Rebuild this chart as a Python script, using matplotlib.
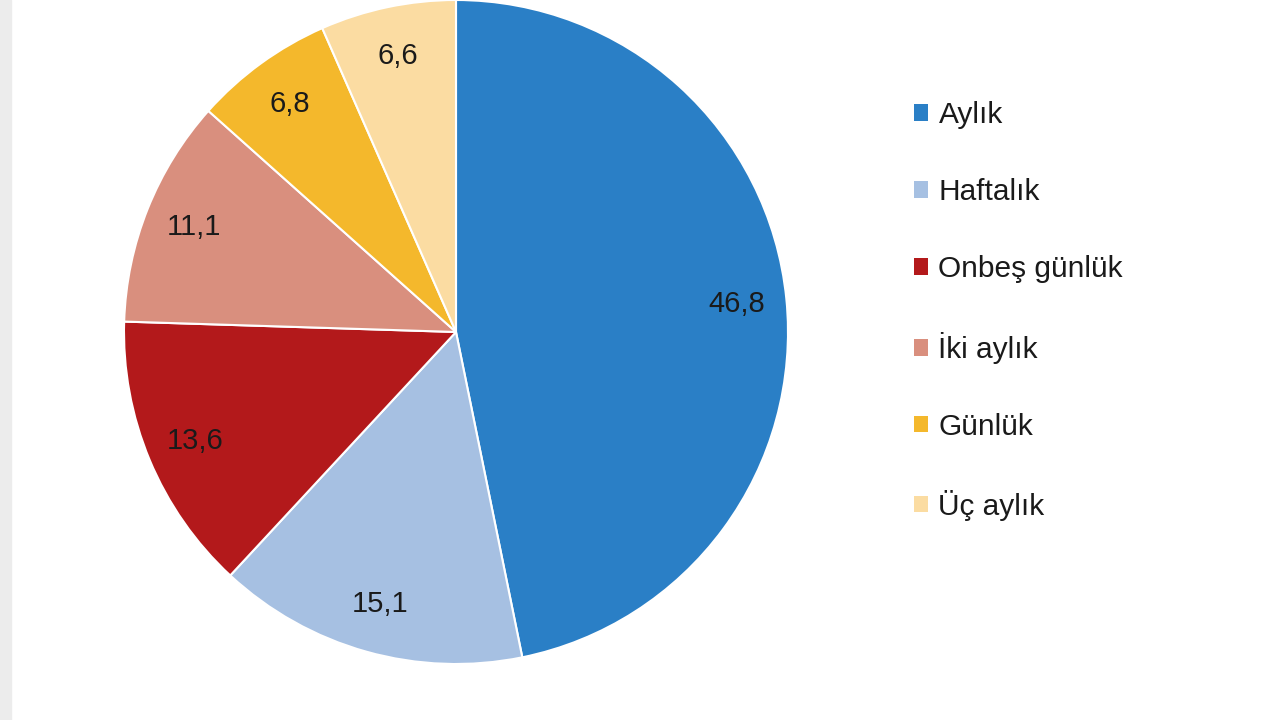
import matplotlib.pyplot as plt
from matplotlib.patches import Patch, Rectangle

labels = ["Aylık", "Haftalık", "Onbeş günlük", "İki aylık", "Günlük", "Üç aylık"]
values = [46.8, 15.1, 13.6, 11.1, 6.8, 6.6]
colors = ["#2a7fc6", "#a6c0e2", "#b3191b", "#d98f7e", "#f4b82c", "#fbdca2"]

plt.rcParams["font.family"] = ["Liberation Sans", "DejaVu Sans"]

fig = plt.figure(figsize=(12.8, 7.2), dpi=100)
fig.patches.append(Rectangle((0, 0), 11 / 1280, 1, transform=fig.transFigure,
                             color="#ececec", zorder=0))

# pie centred at about (456, 332) px, radius ~332 px
cx, cy, r = 456, 332, 332
ax = fig.add_axes([(cx - r) / 1280, (720 - cy - r) / 720, 2 * r / 1280, 2 * r / 720])

wedges, texts, autotexts = ax.pie(
    values, colors=colors, startangle=90, counterclock=False,
    autopct=lambda p: f"{p:.1f}".replace(".", ","), pctdistance=0.85,
    wedgeprops=dict(edgecolor="white", linewidth=1.5),
    textprops=dict(color="#1a1a1a", fontsize=21))
ax.set_aspect("equal")
ax.set_xlim(-1, 1)
ax.set_ylim(-1, 1)

handles = [Patch(facecolor=c, edgecolor="none") for c in colors]
fig.legend(handles, labels, loc="upper left", bbox_to_anchor=(914 / 1280, 1 - 101 / 720),
           frameon=False, fontsize=21.5, labelspacing=1.64, handlelength=0.47,
           handleheight=0.47, handletextpad=0.35, borderaxespad=0, borderpad=0,
           labelcolor="#1a1a1a")

fig.savefig("out.png", dpi=100)
